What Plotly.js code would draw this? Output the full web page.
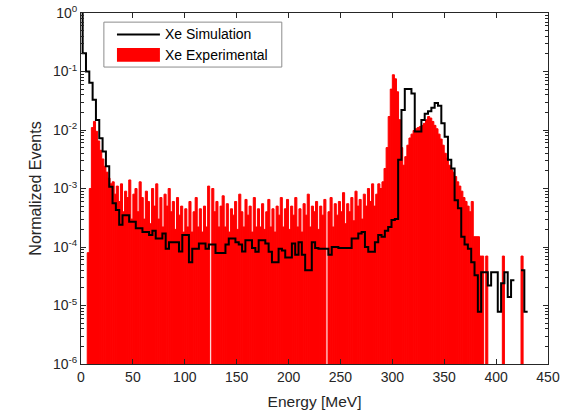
<!DOCTYPE html>
<html>
<head>
<meta charset="utf-8">
<script src="https://cdn.plot.ly/plotly-3.0.1.min.js"></script>
<style>html,body{margin:0;padding:0;background:#fff;}#chart{width:577px;height:410px;}</style>
</head>
<body>
<div id="chart"></div>
<script>
// ---- Data ----
// Simulation histogram: bin width and first bin edge (MeV), then normalized values per bin
const simBinWidth = 3.2;
const simFirstEdge = -1.6;
const simValues = [
  1.5, 0.205, 0.1, 0.064, 0.033, 0.0148, 0.0072, 0.0043, 0.0024, 0.00107,
  0.00056, 0.00043, 0.00024, 0.00035, 0.00035, 0.00027, 0.00027, 0.00021, 0.00021, 0.00018,
  0.00018, 0.00016, 0.00019, 0.00014, 0.00014, 0.00017, 0.000093, 0.00012, 0.00012, 0.00012,
  0.000084, 0.00016, 0.00016, 0.000055, 0.000093, 0.000093, 0.000115, 0.000115, 0.000093, 0.00011,
  0.00011, 0.000079, 0.000079, 0.000079, 0.00011, 0.00014, 0.00014, 0.00012, 0.00011, 0.000084,
  0.00013, 0.00013, 0.000096, 0.000083, 0.00013, 0.00013, 0.000115, 0.000083, 0.000055, 0.000055,
  0.000093, 0.000087, 0.000066, 0.000066, 0.000115, 0.000074, 0.00012, 0.000074, 0.00004, 0.00004,
  0.00012, 0.000096, 0.000093, 0.000093, 0.000093, 0.000074, 0.0001, 0.0001, 0.000096, 0.000096,
  0.000096, 0.000096, 0.00014, 0.00014, 0.00017, 0.00018, 0.0001, 0.000083, 0.000083, 0.00012,
  0.00016, 0.00015, 0.00019, 0.00022, 0.00029, 0.0003, 0.0031, 0.022, 0.05, 0.05,
  0.042, 0.0094, 0.0094, 0.0148, 0.019, 0.021, 0.024, 0.029, 0.026, 0.013,
  0.0077, 0.0031, 0.0022, 0.00063, 0.00046, 0.00015, 0.00011, 0.000093, 0.000055, 0.000033,
  0.0000078, 0.000037, 0.000037, 0.000022, 0.000037, 0.000037, 0.0000078, 0.000024, 0.000037, 0.000014,
  0.000027, 0, 0, 0.00004, 0.0000078
];

// Experimental histogram: bin width and first bin edge (MeV), then normalized values per bin
const expBinWidth = 2;
const expFirstEdge = 6;
const expValues = [
  0.00008, 0.001, 0.011, 0.014, 0.0095,
  0.0065, 0.0045, 0.0032, 0.0024, 0.0019,
  0.0015, 0.0012, 0.0013, 0.0008, 0.0011,
  0.0006, 0.0012, 0.0004, 0.0009, 0.0007,
  0.0014, 0.0003, 0.0008, 0.001, 0.0004,
  0.0013, 0.0007, 0.0003, 0.0009, 0.0006,
  0.00025, 0.001, 0.0005, 0.0012, 0.0003,
  0.0007, 0.00022, 0.0008, 0.0005, 0.001,
  0.0004, 0.0006, 0.0002, 0.0007, 0.00035,
  0.0005, 0.00018, 0.00045, 0.00022, 0.0006,
  0.00018, 0.0004, 0.0007, 0.00022, 0.00045,
  0.00018, 0.0005, 0.00022, 0.0011, 0,
  0.001, 0.0004, 0.0006, 0.00022, 0.0005,
  0.00075, 0.00022, 0.00055, 0.00018, 0.00045,
  0.00035, 0.0006, 0.0002, 0.0008, 0.0004,
  0.00022, 0.00065, 0.00035, 0.0005, 0.00018,
  0.0007, 0.00022, 0.00045, 0.00022, 0.00055,
  0.0002, 0.0004, 0.00065, 0.00022, 0.00045,
  0.00018, 0.0005, 0.00035, 0.0007, 0.00022,
  0.00045, 0.00065, 0.0002, 0.0005, 0.00035,
  0.0007, 0.00022, 0.00045, 0.00018, 0.00055,
  0.00035, 0.0008, 0.00022, 0.0005, 0.0004,
  0.0006, 0.0002, 0.0005, 0.00035, 0.00065,
  0, 0.0004, 0.0007, 0.00022, 0.00055,
  0.00035, 0.0006, 0.0004, 0.00085, 0.00025,
  0.00055, 0.0004, 0.0007, 0.00028, 0.0009,
  0.0005, 0.00065, 0.0003, 0.0008, 0.0005,
  0.001, 0.0006, 0.0012, 0.0005, 0.0008,
  0.0012, 0.001, 0.0013, 0.0022, 0.005,
  0.017, 0.05, 0.088, 0.075, 0.045,
  0.015, 0.005, 0.0025, 0.0035, 0.0055,
  0.0073, 0.0085, 0.0098, 0.0105, 0.011,
  0.0115, 0.012, 0.013, 0.015, 0.017,
  0.016, 0.014, 0.012, 0.0105, 0.0085,
  0.007, 0.0055, 0.004, 0.0033, 0.0025,
  0.0021, 0.0019, 0.0016, 0.0013, 0.0011,
  0.0009, 0.0007, 0.0006, 0.0005, 0.0004,
  0.0006, 0.00015, 0.00015, 0.00015, 0.00007,
  0.00007, 0, 0.00007, 0, 0,
  0, 0, 0, 0, 0,
  0.00007, 0, 0, 0, 0,
  0, 0, 0, 0, 0.00007
];

const seriesNames = ['Xe Simulation', 'Xe Experimental'];
const xTickValues = [0, 50, 100, 150, 200, 250, 300, 350, 400, 450];
const yTickValues = [1e-6, 1e-5, 1e-4, 1e-3, 1e-2, 1e-1, 1];
const yTickLabels = ['10<sup>-6</sup>', '10<sup>-5</sup>', '10<sup>-4</sup>', '10<sup>-3</sup>', '10<sup>-2</sup>', '10<sup>-1</sup>', '10<sup>0</sup>'];

// ---- Build traces from the data ----
const expX = expValues.map((v, i) => expFirstEdge + expBinWidth * (i + 0.5));
const expY = expValues.map(v => (v > 0 ? v : null));

const simX = [], simY = [];
simValues.forEach((v, k) => {
  const left = simFirstEdge + simBinWidth * k;
  const val = v > 0 ? v : null;
  simX.push(left, left + simBinWidth);
  simY.push(val, val);
});

const axisColor = '#262626';
const fontFam = 'Liberation Sans, Arial, Helvetica, sans-serif';

const traces = [
  {
    type: 'bar', name: seriesNames[1], x: expX, y: expY, width: expBinWidth,
    marker: {color: '#ff0000', line: {width: 1, color: '#ff0000'}}, showlegend: false, hoverinfo: 'x+y'
  },
  {
    type: 'scatter', mode: 'lines', name: seriesNames[0], x: simX, y: simY,
    line: {color: '#000000', width: 2}, connectgaps: false, showlegend: false
  }
];

// custom MATLAB-style legend box (paper coordinates)
const lg = {x0: 0.049, x1: 0.430, y0: 0.846, y1: 0.974};
const layout = {
  width: 577, height: 410,
  margin: {l: 81, r: 29, t: 13, b: 46},
  paper_bgcolor: '#ffffff', plot_bgcolor: '#ffffff',
  font: {family: fontFam, size: 14, color: axisColor},
  bargap: 0,
  showlegend: false,
  xaxis: {
    range: [0, 450], tickmode: 'array', tickvals: xTickValues,
    ticks: 'inside', ticklen: 5, tickcolor: axisColor, tickwidth: 1,
    showline: true, linecolor: axisColor, linewidth: 1, mirror: 'ticks',
    showgrid: false, zeroline: false,
    tickfont: {size: 14, color: axisColor},
    title: {text: 'Energy [MeV]', font: {size: 15.5, color: axisColor}, standoff: 12}
  },
  yaxis: {
    type: 'log', range: [-6, 0], tickmode: 'array', tickvals: yTickValues, ticktext: yTickLabels,
    ticks: 'inside', ticklen: 5, tickcolor: axisColor, tickwidth: 1,
    minor: {ticks: 'inside', ticklen: 3, tickcolor: axisColor, dtick: 'D1', showgrid: false},
    showline: true, linecolor: axisColor, linewidth: 1, mirror: 'ticks',
    showgrid: false, zeroline: false,
    tickfont: {size: 14, color: axisColor},
    title: {text: 'Normalized Events', font: {size: 16, color: axisColor}, standoff: 7}
  },
  shapes: [
    {type: 'rect', xref: 'paper', yref: 'paper', x0: lg.x0, x1: lg.x1, y0: lg.y0, y1: lg.y1,
     line: {color: '#8c8c8c', width: 1}, fillcolor: '#ffffff', layer: 'above'},
    {type: 'line', xref: 'paper', yref: 'paper', x0: 0.077, x1: 0.169, y0: 0.939, y1: 0.939,
     line: {color: '#000000', width: 2}, layer: 'above'},
    {type: 'rect', xref: 'paper', yref: 'paper', x0: 0.077, x1: 0.169, y0: 0.861, y1: 0.900,
     line: {width: 0}, fillcolor: '#ff0000', layer: 'above'}
  ],
  annotations: [
    {xref: 'paper', yref: 'paper', x: 0.176, y: 0.939, xanchor: 'left', yanchor: 'middle',
     text: seriesNames[0], showarrow: false, font: {size: 14, color: '#000000'}},
    {xref: 'paper', yref: 'paper', x: 0.176, y: 0.880, xanchor: 'left', yanchor: 'middle',
     text: seriesNames[1], showarrow: false, font: {size: 14, color: '#000000'}}
  ]
};

Plotly.newPlot('chart', traces, layout, {staticPlot: true, displayModeBar: false});
</script>
</body>
</html>
